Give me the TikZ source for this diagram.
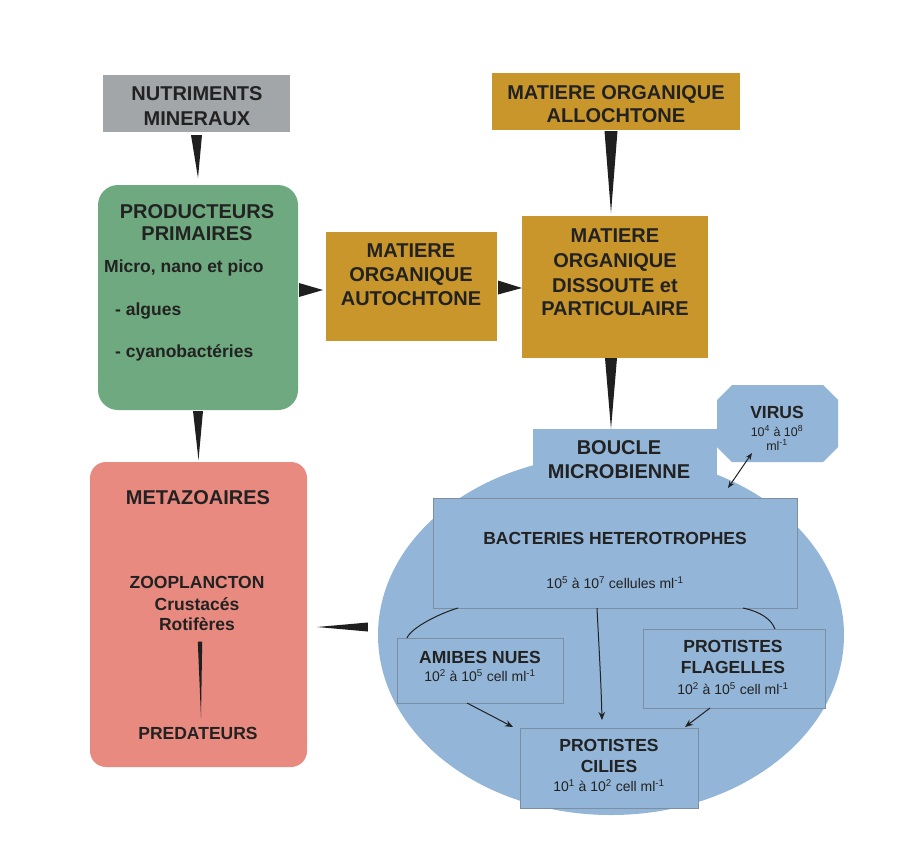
\documentclass[tikz,border=0pt]{standalone}
\usepackage{fontspec}
\setmainfont{Liberation Sans}
\usetikzlibrary{calc,arrows.meta,shapes.geometric}
\definecolor{gris}{HTML}{A3A6A9}
\definecolor{orr}{HTML}{C9962C}
\definecolor{vert}{HTML}{6FA97F}
\definecolor{rose}{HTML}{E88A80}
\definecolor{bleu}{HTML}{92B5D8}
\definecolor{bord}{HTML}{7D8EA3}
\definecolor{txt}{HTML}{222222}
\begin{document}
\begin{tikzpicture}[x=1pt,y=-1pt,
  box/.style={inner sep=0pt, outer sep=0pt, anchor=north west},
  bluebox/.style={box, fill=bleu, draw=bord, line width=0.8pt},
  big/.style={font=\fontsize{20}{25}\selectfont\bfseries, text=txt, align=center, inner sep=0pt},
  mid/.style={font=\fontsize{17.5}{21}\selectfont\bfseries, text=txt, align=center, inner sep=0pt},
  small/.style={font=\fontsize{14}{16}\selectfont, text=txt, align=center, inner sep=0pt},
  wedge/.style={fill=black!88},
  link/.style={draw=txt, line width=1pt},
  arr/.style={link, -{Stealth[length=8pt,width=6.5pt]}}]
\useasboundingbox[fill=white] (0,0) rectangle (908,852);

% ---------- boxes ----------
\node[box, fill=gris, minimum width=187pt, minimum height=57pt] (nut) at (103,75) {};
\node[box, fill=vert, rounded corners=20pt, minimum width=200pt, minimum height=225pt] (prod) at (98,185) {};
\node[box, fill=orr, minimum width=171pt, minimum height=109pt] (auto) at (326,232) {};
\node[box, fill=orr, minimum width=248pt, minimum height=57pt] (allo) at (492,73) {};
\node[box, fill=orr, minimum width=186pt, minimum height=142pt] (diss) at (522,216) {};
\node[box, fill=rose, rounded corners=16pt, minimum width=217pt, minimum height=305pt] (meta) at (90,462) {};

% microbial loop
\node[ellipse, fill=bleu, inner sep=0pt, minimum width=466pt, minimum height=360pt] (ell) at (611,635) {};
\node[box, fill=bleu, minimum width=184pt, minimum height=60pt] (boucle) at (533,429) {};
\node[box, minimum width=121pt, minimum height=77pt] (virus) at (717,385) {};
\fill[bleu] ($(virus.north west)+(15,0)$) -- ($(virus.north east)+(-15,0)$) -- ($(virus.north east)+(0,15)$)
  -- ($(virus.south east)+(0,-15)$) -- ($(virus.south east)+(-15,0)$) -- ($(virus.south west)+(15,0)$)
  -- ($(virus.south west)+(0,-15)$) -- ($(virus.north west)+(0,15)$) -- cycle;
\node[bluebox, minimum width=364pt, minimum height=110pt] (bact) at (433,498) {};
\node[bluebox, minimum width=166pt, minimum height=65pt] (amib) at (397,638) {};
\node[bluebox, minimum width=182pt, minimum height=79pt] (flag) at (643,629) {};
\node[bluebox, minimum width=178pt, minimum height=80pt] (cil) at (520,728) {};

% ---------- texts ----------
\node[big] (nutT) at (197,106) {NUTRIMENTS\\MINERAUX};
\node[big] (prodT) at (197,223) {PRODUCTEURS\\[-3pt]PRIMAIRES};
\node[mid, anchor=west] (microT) at (104,268) {Micro, nano et pico};
\node[mid, anchor=west] (algT) at (115,311) {- algues};
\node[mid, anchor=west] (cyaT) at (115,353) {- cyanobactéries};
\node[big] (autoT) at (411,275) {MATIERE\\[-1pt]ORGANIQUE\\[-1pt]AUTOCHTONE};
\node[big] (alloT) at (616,104) {MATIERE ORGANIQUE\\[-2pt]ALLOCHTONE};
\node[big] (dissT) at (615,272) {MATIERE\\ORGANIQUE\\DISSOUTE et\\[-2pt]PARTICULAIRE};
\node[big] (bouT) at (619,460) {BOUCLE\\[-1pt]MICROBIENNE};
\node[mid] (virT) at (777,412) {VIRUS};
\node[small, font=\fontsize{12.5}{14}\selectfont] (virN) at (777,431) {10\textsuperscript{4} à 10\textsuperscript{8}};
\node[small, font=\fontsize{12.5}{14}\selectfont] (virM) at (777,445) {ml\textsuperscript{-1}};
\node[mid] (bactT) at (615,538) {BACTERIES HETEROTROPHES};
\node[small] (bactN) at (615,583) {10\textsuperscript{5} à 10\textsuperscript{7} cellules ml\textsuperscript{-1}};
\node[mid] (amibT) at (480,657) {AMIBES NUES};
\node[small] (amibN) at (480,676) {10\textsuperscript{2} à 10\textsuperscript{5} cell ml\textsuperscript{-1}};
\node[mid] (flagT) at (733,657) {PROTISTES\\FLAGELLES};
\node[small] (flagN) at (733,689) {10\textsuperscript{2} à 10\textsuperscript{5} cell ml\textsuperscript{-1}};
\node[mid] (cilT) at (609,756) {PROTISTES\\CILIES};
\node[small] (cilN) at (609,786) {10\textsuperscript{1} à 10\textsuperscript{2} cell ml\textsuperscript{-1}};
\node[big] (metaT) at (198,498) {METAZOAIRES};
\node[mid] (zooT) at (197,582) {ZOOPLANCTON};
\node[mid] (cruT) at (197,604) {Crustacés};
\node[mid] (rotT) at (197,624) {Rotifères};
\node[mid] (predT) at (198,733) {PREDATEURS};

% ---------- wedge connectors ----------
\fill[wedge] ($(nut.south)+(-5.5,3)$) -- ($(nut.south)+(5.5,3)$) -- ($(prod.north)+(0,-7)$) -- cycle;
\fill[wedge] ($(prod.south)+(-5,1)$) -- ($(prod.south)+(5,1)$) -- ($(meta.north)+(0,-2)$) -- cycle;
\fill[wedge] ($(prod.east|-auto.west)+(1,-3.5)$) -- ($(prod.east|-auto.west)+(1,10.5)$) -- ($(auto.west)+(-3,3.5)$) -- cycle;
\fill[wedge] ($(auto.east)+(1,-6)$) -- ($(auto.east)+(1,8)$) -- ($(diss.west)+(0,1)$) -- cycle;
\fill[wedge] ($(allo.south)+(-11.5,1)$) -- ($(allo.south)+(1.5,1)$) -- ($(diss.north)+(-4,-3)$) -- cycle;
\fill[wedge] ($(diss.south)+(-10,0)$) -- ($(diss.south)+(2,0)$) -- ($(diss.south|-boucle.north)+(-4,0)$) -- cycle;
\fill[wedge] ($(ell.west)+(-10,-12.5)$) -- ($(ell.west)+(-10,-3.5)$) -- ($(meta.east|-ell.west)+(10,-8)$) -- cycle;
\fill[wedge] ($(rotT.south)+(0.8,11)$) -- ($(rotT.south)+(5.2,11)$) -- ($(predT.north)+(3,-9)$) -- cycle;

% ---------- thin connectors ----------
\coordinate (vend) at (728,488);
\draw[link, {Stealth[length=7pt,width=5.5pt]}-{Stealth[length=7pt,width=5.5pt]}] ($(virus.south west)+(35,-9)$) -- (vend);
\draw[link] ($(bact.south west)+(25,0)$) .. controls +(-20,6) and +(4,-10) .. ($(amib.north west)+(10,0)$);
\draw[link] ($(bact.south east)+(-54,0)$) .. controls +(18,4) and +(-4,-10) .. ($(flag.north west)+(132,0)$);
\draw[arr] ($(bact.south west)+(164,0)$) .. controls +(2,40) and +(-1,-40) .. ($(cil.north west)+(82,-8)$);
\draw[arr] ($(amib.south)+(-13,0)$) -- ($(cil.north west)+(-7,-1)$);
\draw[arr] ($(flag.south)+(-24,0)$) -- ($(cil.north east)+(-13,-1)$);
\end{tikzpicture}
\end{document}
